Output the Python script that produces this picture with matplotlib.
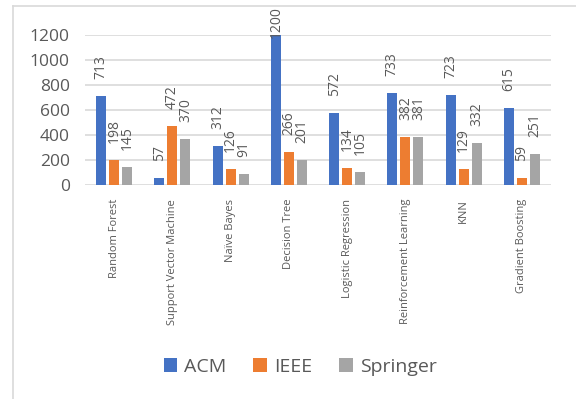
import matplotlib
matplotlib.use("Agg")
import matplotlib.pyplot as plt
from matplotlib.lines import Line2D
import numpy as np

categories = ["Random Forest", "Support Vector Machine", "Naïve Bayes", "Decision Tree",
              "Logistic Regression", "Reinforcement Learning", "KNN", "Gradient Boosting"]
acm = [713, 57, 312, 1200, 572, 733, 723, 615]
ieee = [198, 472, 126, 266, 134, 382, 129, 59]
springer = [145, 370, 91, 201, 105, 381, 332, 251]
series_names = ["ACM", "IEEE", "Springer"]
colors = ["#4472C4", "#ED7D31", "#A5A5A5"]
yticks = [0, 200, 400, 600, 800, 1000, 1200]

plt.rcParams['font.family'] = ['Open Sans', 'DejaVu Sans']
txt = "#595959"

fig = plt.figure(figsize=(5.76, 3.99), dpi=100)
ax = fig.add_axes([85/576, 1-185/399, (551-85)/576, 150/399])

ax.set_xlim(-0.5, len(categories)-0.5)
ax.set_ylim(0, 1200)

fig.canvas.draw()
renderer = fig.canvas.get_renderer()
limit_px = fig.bbox.height - 6
gap_px = 17

x = np.arange(len(categories))
w = 0.172
step = 0.224
for i, (vals, name, c) in enumerate(zip([acm, ieee, springer], series_names, colors)):
    pos = x + (i-1)*step
    ax.bar(pos, vals, width=w, color=c, label=name, zorder=3)
    for p, v in zip(pos, vals):
        probe = fig.text(0, 0, str(v), rotation=90, fontsize=10)
        length = probe.get_window_extent(renderer).height
        probe.remove()
        top_px = ax.transData.transform((p, v))[1]
        off = min(gap_px, limit_px - length - top_px)
        ax.annotate(str(v), (p, v), xytext=(0, off * 72 / fig.dpi),
                    textcoords="offset points", rotation=90, ha="center",
                    va="bottom", fontsize=10, color=txt, annotation_clip=False,
                    zorder=4)

ax.set_yticks(yticks)
ax.set_yticklabels([str(t) for t in yticks], fontsize=12.5, color=txt)
ax.set_xticks(x)
ax.set_xticklabels(categories, rotation=90, fontsize=8, color=txt)
ax.tick_params(axis='both', length=0)
ax.tick_params(axis='x', pad=10)
ax.tick_params(axis='y', pad=11)
ax.grid(axis='y', color="#D9D9D9", linewidth=1.2, zorder=0)
for s in ax.spines.values():
    s.set_visible(False)

fig.legend(loc="center", bbox_to_anchor=(300/576, 1-367/399), ncol=3, frameon=False,
           fontsize=14, handlelength=0.7, handleheight=0.7, handletextpad=0.35,
           columnspacing=1.4, labelcolor=txt)

fig.add_artist(Line2D([13/576, 13/576], [0, 1-6/399], color="#D9D9D9", linewidth=1.2))
fig.add_artist(Line2D([13/576, 1], [1-6/399, 1-6/399], color="#D9D9D9", linewidth=1.2))

fig.savefig("out.png", dpi=100)
